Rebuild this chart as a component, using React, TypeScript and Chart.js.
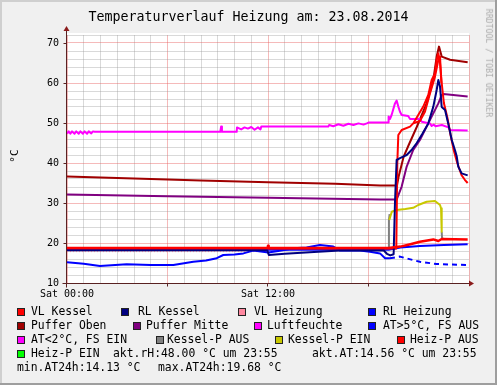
import React, { useEffect, useRef } from "react";
import { Chart, registerables } from "chart.js";

Chart.register(...registerables);

type Pt = [number, number]; // [hour of day, value]

const TITLE = "Temperaturverlauf Heizung am: 23.08.2014";
const UNIT = "°C";
const WATERMARK = "RRDTOOL / TOBI OETIKER";

const X_MIN = 0;
const X_MAX = 24;
const Y_MIN = 10;
const Y_MAX = 72;
const X_TICK_LABELS: Record<number, string> = { 0: "Sat 00:00", 12: "Sat 12:00" };

// ---- series (hour, °C) ----
const vlKessel: Pt[] = [
  [0, 18.6], [19.66, 18.6], [19.72, 40], [19.78, 47], [19.98, 48.25], [20.48, 49.1],
  [20.67, 49.9], [20.97, 52], [21.27, 54.1], [21.57, 57], [21.77, 60.75], [21.97, 62.4],
  [22.07, 65.75], [22.17, 67.4], [22.27, 65], [22.37, 60], [22.5, 55], [22.7, 51.5],
  [22.9, 47], [23.1, 43], [23.3, 40], [23.55, 37], [23.75, 35.8], [23.92, 35],
];
const vlKesselB: Pt[] = [
  [20.67, 49.9], [21.07, 50.5], [21.37, 52.8], [21.67, 57.4], [21.97, 61.6],
  [22.17, 65.75], [22.27, 66.6], [22.35, 60],
];
const rlKessel: Pt[] = [
  [0, 18.2], [11.95, 18.2], [12.05, 17.0], [13, 17.3], [15, 17.8], [16.3, 18.1],
  [18.9, 18.2], [19.1, 17.3], [19.3, 16.9], [19.5, 17.2], [19.58, 30], [19.68, 40.75],
  [19.88, 41.2], [20.28, 42], [20.57, 43.25], [20.88, 45], [21.2, 47.2], [21.57, 49.9],
  [21.87, 54.1], [22.07, 58.25], [22.17, 60.75], [22.27, 59.1], [22.37, 54], [22.57, 53.25],
  [22.76, 49.9], [22.97, 45.75], [23.16, 43.25], [23.27, 41.6], [23.36, 39.1],
  [23.56, 37.4], [23.92, 36.9],
];
const vlHeizung: Pt[] = [[0, 17.85], [11.95, 17.85]];
const rlHeizung: Pt[] = [
  [0, 18.3], [19.2, 18.3], [19.9, 18.9], [21.07, 19.25], [22.5, 19.5], [23.92, 19.7],
];
const pufferOben: Pt[] = [
  [0, 36.6], [4, 36.1], [8, 35.6], [12, 35.2], [16, 34.8], [18.7, 34.4], [19.7, 34.4],
  [19.8, 36.6], [20.1, 41.6], [20.4, 44.5], [20.88, 49], [21.47, 54.9], [21.87, 60.75],
  [22.07, 66.6], [22.21, 69.1], [22.37, 66.6], [22.87, 65.8], [23.92, 65.2],
];
const pufferMitte: Pt[] = [
  [0, 32.1], [6, 31.7], [12, 31.3], [18.7, 30.85], [19.68, 30.85], [19.98, 34.1],
  [20.28, 39.1], [20.67, 43.25], [21.07, 45.75], [21.27, 47.4], [21.77, 51.6],
  [22.17, 54.9], [22.37, 57.0], [22.47, 57.25], [23.92, 56.6],
];
const luftfeuchte: Pt[] = [
  [0, 47.3], [0.1, 47.9], [0.2, 47.3], [0.3, 47.9], [0.45, 47.3], [0.55, 47.9], [0.7, 47.3],
  [0.8, 47.9], [0.95, 47.3], [1.05, 47.9], [1.2, 47.3], [1.3, 47.9], [1.45, 47.4],
  [1.55, 47.9], [1.65, 47.8], [9.15, 47.8], [9.2, 49.1], [9.25, 47.8], [10.13, 47.8],
  [10.15, 48.9], [10.4, 48.4], [10.6, 48.9], [10.8, 48.6], [11.0, 49.0], [11.2, 48.3],
  [11.4, 48.9], [11.55, 48.4], [11.6, 49.1], [15.6, 49.1], [15.65, 49.5], [15.9, 49.2],
  [16.2, 49.7], [16.5, 49.3], [16.8, 49.8], [17.1, 49.5], [17.4, 49.9], [17.7, 49.6],
  [17.9, 49.9], [18.0, 50.1], [19.18, 50.1], [19.2, 51.6], [19.28, 51.0], [19.38, 52],
  [19.58, 54.9], [19.68, 55.6], [19.78, 54.1], [19.88, 52.8], [19.98, 52], [20.37, 51.75],
  [20.48, 51], [21.08, 51], [21.18, 50.3], [21.67, 49.9], [21.77, 49.25], [21.9, 49.6],
  [22.0, 49.2], [22.38, 49.5], [22.77, 48.9], [22.87, 48.25], [23.92, 48.1],
];
const aussenTemp: Pt[] = [
  [0, 15.2], [1, 14.8], [1.97, 14.25], [3.56, 14.7], [5, 14.5], [6.35, 14.5], [7.54, 15.3],
  [8.3, 15.6], [8.94, 16.2], [9.33, 17.0], [10.0, 17.1], [10.53, 17.4], [11.12, 18.1],
  [12.02, 17.6], [12.8, 18.1], [13.51, 18.7], [14.3, 18.9], [15.1, 19.5], [15.9, 19.1],
  [16.3, 18.1], [17.49, 18.1], [18.09, 17.8], [18.69, 17.4], [18.99, 16.2], [19.28, 16.2],
];
const aussenTempSpaeter: Pt[] = [
  [19.28, 16.2], [19.88, 16.6], [20.5, 15.9], [21.07, 15.3], [22.07, 14.75], [23.0, 14.6],
  [23.92, 14.5],
];
const kesselPAusA: Pt[] = [[19.17, 18.75], [19.22, 25.75], [19.26, 27.2]];
const kesselPAusB: Pt[] = [[22.37, 22.8], [22.39, 21.3], [22.45, 21.2]];
const kesselPEin: Pt[] = [
  [19.24, 25.75], [19.39, 27.8], [19.68, 28.25], [20.2, 28.5], [20.67, 28.8], [20.97, 29.5],
  [21.47, 30.3], [21.97, 30.5], [22.27, 29.5], [22.33, 28.7], [22.37, 22.8],
];
const heizPAus: Pt[] = [
  [0, 18.75], [11.98, 18.75], [12.0, 19.3], [12.04, 18.75], [19.2, 18.75], [19.9, 19.1],
  [20.5, 19.7], [21.07, 20.3], [21.87, 20.9], [22.17, 20.5], [22.37, 21.0], [23.92, 20.9],
];

// ---- legend ----
const LEGEND_ROWS: { label: string; color?: string; boxX?: number; textX: number; row: number }[] = [
  { label: "VL Kessel", color: "#ff0000", boxX: 17, textX: 31, row: 0 },
  { label: "RL Kessel", color: "#000080", boxX: 121, textX: 138, row: 0 },
  { label: "VL Heizung", color: "#ff88a0", boxX: 238, textX: 254, row: 0 },
  { label: "RL Heizung", color: "#0000ff", boxX: 368, textX: 383, row: 0 },
  { label: "Puffer Oben", color: "#a00000", boxX: 17, textX: 31, row: 1 },
  { label: "Puffer Mitte", color: "#800080", boxX: 133, textX: 146, row: 1 },
  { label: "Luftfeuchte", color: "#ff00ff", boxX: 254, textX: 267, row: 1 },
  { label: "AT>5°C, FS AUS", color: "#0000ff", boxX: 368, textX: 383, row: 1 },
  { label: "AT<2°C, FS EIN", color: "#ff00ff", boxX: 17, textX: 31, row: 2 },
  { label: "Kessel-P AUS", color: "#808080", boxX: 156, textX: 167, row: 2 },
  { label: "Kessel-P EIN", color: "#c8c800", boxX: 275, textX: 288, row: 2 },
  { label: "Heiz-P AUS", color: "#ff0000", boxX: 397, textX: 410, row: 2 },
  { label: "Heiz-P EIN", color: "#00ff00", boxX: 17, textX: 31, row: 3 },
  { label: "akt.rH:48.00 °C um 23:55", textX: 113, row: 3 },
  { label: "akt.AT:14.56 °C um 23:55", textX: 312, row: 3 },
  { label: "min.AT24h:14.13 °C", textX: 17, row: 4 },
  { label: "max.AT24h:19.68 °C", textX: 158, row: 4 },
];

const MONO = '"DejaVu Sans Mono", "Liberation Mono", monospace';

function toXY(pts: Pt[]) {
  return pts.map(([x, y]) => ({ x, y }));
}

const SERIES: { label: string; pts: Pt[]; color: string; width: number; dash?: number[] }[] = [
  { label: "VL Heizung", pts: vlHeizung, color: "#ff88a0", width: 1, dash: [1, 2] },
  { label: "RL Heizung", pts: rlHeizung, color: "#0000ff", width: 2 },
  { label: "AT", pts: aussenTemp, color: "#0000ff", width: 2 },
  { label: "AT (spät)", pts: aussenTempSpaeter, color: "#0000ff", width: 2, dash: [5, 4] },
  { label: "Puffer Mitte", pts: pufferMitte, color: "#800080", width: 2 },
  { label: "Puffer Oben", pts: pufferOben, color: "#a00000", width: 2 },
  { label: "Luftfeuchte", pts: luftfeuchte, color: "#ff00ff", width: 2 },
  { label: "Kessel-P AUS", pts: kesselPAusA, color: "#808080", width: 2 },
  { label: "Kessel-P AUS ", pts: kesselPAusB, color: "#808080", width: 2 },
  { label: "Kessel-P EIN", pts: kesselPEin, color: "#c8c800", width: 2 },
  { label: "VL Kessel", pts: vlKessel, color: "#ff0000", width: 2 },
  { label: "VL Kessel ", pts: vlKesselB, color: "#ff0000", width: 2 },
  { label: "RL Kessel", pts: rlKessel, color: "#000080", width: 2 },
  { label: "Heiz-P AUS", pts: heizPAus, color: "#ff0000", width: 2.5 },
];

const framePlugin = {
  id: "rrdFrame",
  beforeDraw(chart: any) {
    const { ctx, chartArea: a, width, height } = chart;
    ctx.save();
    ctx.fillStyle = "#f0f0f0";
    ctx.fillRect(0, 0, width, height);
    ctx.fillStyle = "#cfcfcf";
    ctx.fillRect(0, 0, width, 2);
    ctx.fillRect(0, 0, 2, height);
    ctx.fillStyle = "#9e9e9e";
    ctx.fillRect(0, height - 2, width, 2);
    ctx.fillRect(width - 2, 0, 2, height);
    ctx.fillStyle = "#ffffff";
    ctx.fillRect(a.left, a.top - 2, a.right - a.left, a.bottom - a.top + 2);
    ctx.restore();
  },
  afterDatasetsDraw(chart: any) {
    const { ctx } = chart;
    const xs = chart.scales.x;
    const ys = chart.scales.y;
    const x0 = Math.round(xs.getPixelForValue(X_MIN)) - 0.5;
    const y0 = Math.round(ys.getPixelForValue(Y_MIN)) + 0.5;
    const xEnd = xs.getPixelForValue(X_MAX);
    const yTop = ys.getPixelForValue(Y_MAX);
    ctx.save();
    ctx.strokeStyle = "#5a2222";
    ctx.lineWidth = 1;
    ctx.beginPath();
    ctx.moveTo(x0, y0 + 4);
    ctx.lineTo(x0, yTop - 4);
    ctx.moveTo(x0 - 4, y0);
    ctx.lineTo(xEnd, y0);
    for (let v = Y_MIN; v <= 70; v += 10) {
      const py = Math.round(ys.getPixelForValue(v)) + 0.5;
      ctx.moveTo(x0 - 3, py);
      ctx.lineTo(x0, py);
    }
    for (let h = X_MIN; h < X_MAX; h += 6) {
      const px = Math.round(xs.getPixelForValue(h)) - 0.5;
      ctx.moveTo(px, y0);
      ctx.lineTo(px, y0 + 3);
    }
    ctx.stroke();
    ctx.fillStyle = "#8b1c1c";
    ctx.beginPath();
    ctx.moveTo(x0, yTop - 9);
    ctx.lineTo(x0 - 3, yTop - 4);
    ctx.lineTo(x0 + 3, yTop - 4);
    ctx.closePath();
    ctx.fill();
    ctx.beginPath();
    ctx.moveTo(xEnd + 5, y0);
    ctx.lineTo(xEnd, y0 - 3);
    ctx.lineTo(xEnd, y0 + 3);
    ctx.closePath();
    ctx.fill();
    ctx.restore();
  },
};

function textAt(size: number, cy: number): React.CSSProperties {
  return {
    position: "absolute",
    top: cy - size * 0.48,
    fontFamily: MONO,
    fontSize: size,
    lineHeight: 1,
    whiteSpace: "pre",
    color: "#000",
  };
}

export default function App() {
  const ref = useRef<HTMLCanvasElement>(null);

  useEffect(() => {
    const canvas = ref.current;
    if (!canvas) return;
    const datasets = SERIES.map((s, i) => ({
      label: s.label,
      data: toXY(s.pts),
      borderColor: s.color,
      backgroundColor: s.color,
      borderWidth: s.width,
      borderDash: s.dash || [],
      pointRadius: 0,
      tension: 0,
      fill: false,
      order: 100 - i,
      borderJoinStyle: "round" as const,
    }));
    const minor = "rgba(150,150,150,0.36)";
    const major = "rgba(232,90,90,0.42)";
    const chart = new Chart(canvas, {
      type: "line",
      data: { datasets },
      options: {
        animation: false,
        responsive: false,
        devicePixelRatio: 1,
        layout: { padding: { left: 0, right: 28, top: 35, bottom: 0 } },
        plugins: {
          legend: { display: false },
          tooltip: { enabled: false },
          title: { display: false },
        },
        scales: {
          x: {
            type: "linear",
            min: X_MIN,
            max: X_MAX,
            afterFit: (s: any) => {
              s.height = 102;
            },
            border: { display: false },
            grid: {
              drawTicks: false,
              lineWidth: 1,
              color: (c: any) => (c.tick && Math.round(c.tick.value) % 6 === 0 ? major : minor),
            },
            ticks: {
              stepSize: 1,
              autoSkip: false,
              maxRotation: 0,
              minRotation: 0,
              padding: 5,
              color: "#000",
              font: { family: MONO, size: 10 },
              callback: (v: any) => X_TICK_LABELS[Math.round(Number(v))] ?? "",
            },
          },
          y: {
            type: "linear",
            min: Y_MIN,
            max: Y_MAX,
            afterFit: (s: any) => {
              s.width = 67;
            },
            border: { display: false },
            grid: {
              drawTicks: false,
              lineWidth: 1,
              color: (c: any) => (c.tick && Math.round(c.tick.value) % 10 === 0 ? major : minor),
            },
            ticks: {
              stepSize: 2,
              autoSkip: false,
              padding: 8,
              color: "#000",
              font: { family: MONO, size: 10 },
              callback: (v: any) => (Math.round(Number(v)) % 10 === 0 ? String(Math.round(Number(v))) : ""),
            },
          },
        },
      } as any,
      plugins: [framePlugin],
    });
    return () => chart.destroy();
  }, []);

  const LEG = 11.4;
  const rowY = (r: number) => 311.2 + r * 14;

  return (
    <div style={{ position: "absolute", left: 0, top: 0, width: 497, height: 385, overflow: "hidden" }}>
      <canvas ref={ref} width={497} height={385} style={{ display: "block", width: 497, height: 385 }} />
      <div style={{ ...textAt(13.3, 16.3), left: 0, width: 497, textAlign: "center" }}>{TITLE}</div>
      <div
        style={{
          ...textAt(11, 0),
          top: 156,
          left: 14,
          transform: "translate(-50%, -50%) rotate(-90deg)",
        }}
      >
        {UNIT}
      </div>
      <div
        style={{
          ...textAt(8.2, 0),
          top: 62.5,
          left: 488.5,
          color: "#ababab",
          transform: "translate(-50%, -50%) rotate(90deg)",
        }}
      >
        {WATERMARK}
      </div>
      {LEGEND_ROWS.map((it, i) => (
        <React.Fragment key={i}>
          {it.color && it.boxX !== undefined ? (
            <div
              style={{
                position: "absolute",
                left: it.boxX,
                top: Math.round(rowY(it.row) - 3.5),
                width: 6,
                height: 6,
                background: it.color,
                border: "1px solid #222",
              }}
            />
          ) : null}
          <div style={{ ...textAt(LEG, rowY(it.row)), left: it.textX }}>{it.label}</div>
        </React.Fragment>
      ))}
    </div>
  );
}
